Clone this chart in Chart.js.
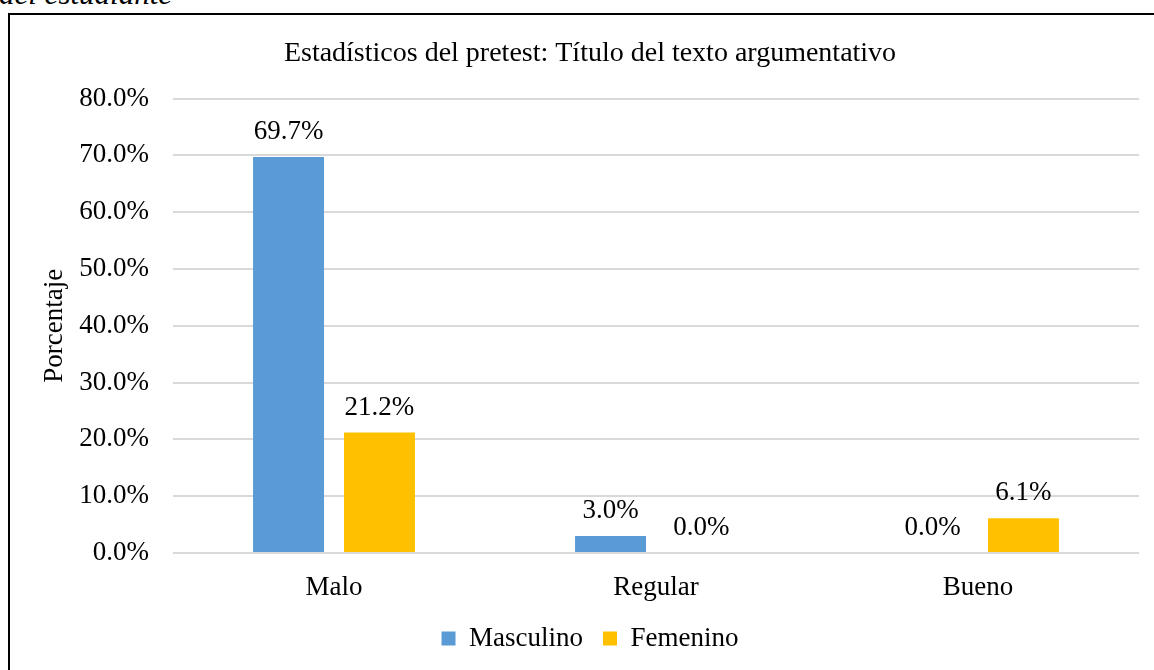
<!DOCTYPE html>
<html>
<head>
<meta charset="utf-8">
<script src="https://cdn.jsdelivr.net/npm/chart.js@4"></script>
<style>
  html, body { margin: 0; padding: 0; background: #fff; overflow: hidden; width: 1154px; height: 670px; }
  #caption { position: absolute; left: -1px; top: -22px; font: italic 31px/31px "Liberation Serif", serif; color: #000; white-space: nowrap; }
  #marco { position: absolute; left: 8px; top: 13px; width: 1200px; height: 700px; border: 2px solid #000; box-sizing: border-box; }
  #grafico { position: absolute; left: 0; top: 0; }
</style>
</head>
<body>
<div id="caption">del estudiante</div>
<div id="marco"></div>
<canvas id="grafico" width="1180" height="670"></canvas>
<script>
const categorias = ['Malo', 'Regular', 'Bueno'];
const masculino = [69.7, 3.0, 0.0];
const femenino = [21.2, 0.0, 6.1];
const titulo = 'Estadísticos del pretest: Título del texto argumentativo';
const fuente = '"Liberation Serif", "Times New Roman", serif';

// etiquetas de valor encima de cada barra
const etiquetas = {
  id: 'etiquetas',
  afterDatasetsDraw(chart) {
    const ctx = chart.ctx;
    ctx.save();
    ctx.font = '27px ' + fuente;
    ctx.fillStyle = '#000';
    ctx.textAlign = 'center';
    ctx.textBaseline = 'middle';
    chart.data.datasets.forEach((ds, i) => {
      chart.getDatasetMeta(i).data.forEach((bar, j) => {
        ctx.fillText(ds.data[j].toFixed(1) + '%', bar.x, bar.y - 25);
      });
    });
    ctx.restore();
  }
};

const config = {
  type: 'bar',
  data: {
    labels: categorias,
    datasets: [{
      label: 'Masculino',
      data: masculino,
      backgroundColor: '#5B9BD5',
      categoryPercentage: 0.565,
      barPercentage: 0.78
    }, {
      label: 'Femenino',
      data: femenino,
      backgroundColor: '#FFC000',
      categoryPercentage: 0.565,
      barPercentage: 0.78
    }]
  },
  options: {
    responsive: false,
    animation: false,
    layout: { padding: { left: 0, right: 0, top: 0, bottom: 8 } },
    scales: {
      x: {
        grid: { display: false },
        border: { display: false },
        ticks: { color: '#000', padding: 11, font: { family: fuente, size: 27 } },
        afterFit: s => { s.height = 52; }
      },
      y: {
        min: 0,
        max: 80,
        ticks: {
          stepSize: 10,
          color: '#000',
          padding: 24,
          font: { family: fuente, size: 27 },
          callback: v => v.toFixed(1) + '%'
        },
        grid: { color: '#D9D9D9', lineWidth: 2, drawTicks: false },
        border: { display: false },
        title: {
          display: true,
          text: 'Porcentaje',
          color: '#000',
          padding: { top: 39, bottom: 0 },
          font: { family: fuente, size: 27 }
        },
        afterFit: s => { s.width = 173; }
      },
      y2: {
        position: 'right',
        grid: { display: false },
        border: { display: false },
        ticks: { display: false },
        afterFit: s => { s.width = 41; }
      }
    },
    plugins: {
      title: {
        display: true,
        text: titulo,
        color: '#000',
        padding: { top: 37, bottom: 28 },
        font: { family: fuente, size: 28, weight: 'normal' }
      },
      legend: {
        position: 'bottom',
        labels: {
          color: '#000',
          boxWidth: 14,
          boxHeight: 14,
          padding: 20,
          font: { family: fuente, size: 27 }
        }
      },
      tooltip: { enabled: false }
    }
  },
  plugins: [etiquetas]
};

window.onload = function() {
  const ctx = document.getElementById('grafico').getContext('2d');
  new Chart(ctx, config);
};
</script>
</body>
</html>
